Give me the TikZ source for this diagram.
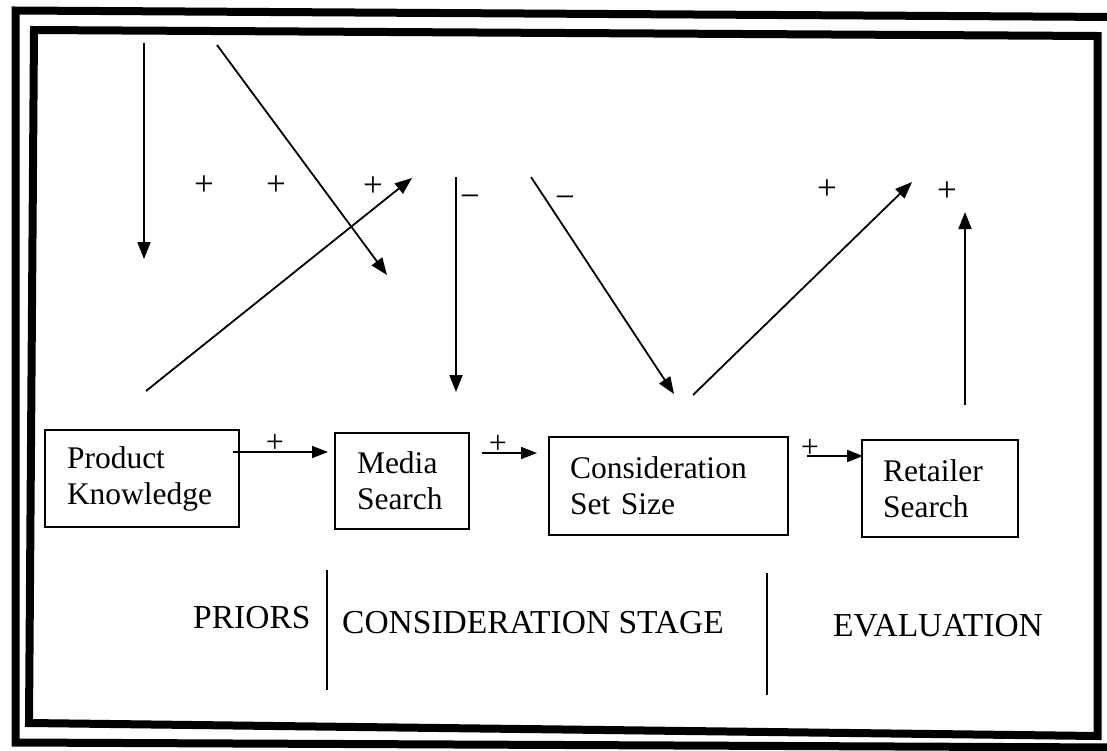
\documentclass[tikz,border=0pt]{standalone}
\usepackage{fontspec}
\setmainfont{Liberation Serif}
\usetikzlibrary{arrows.meta}
\begin{document}
\begin{tikzpicture}[x=1pt,y=-1pt,
  boxnode/.style={draw, line width=1.4pt, align=left, inner ysep=0pt, font=\fontsize{31.5}{36}\selectfont},
  arr/.style={line width=1.8pt, -{Triangle[length=17pt,width=13pt]}},
  harr/.style={line width=1.8pt, -{Triangle[length=16pt,width=12pt]}},
  sign/.style={font=\fontsize{35}{35}\selectfont, inner sep=0pt},
  smallsign/.style={font=\fontsize{32}{32}\selectfont, inner sep=0pt},
  stage/.style={font=\fontsize{33.5}{33.5}\selectfont, anchor=base west, inner sep=0pt},
  frame/.style={line width=8pt, line join=miter},
  divider/.style={line width=1.5pt}]
\useasboundingbox[fill=white] (0,0) rectangle (1107,750);

% frames
\draw[frame] (15.5,10.5) -- (1118,17) -- (1118,747.5) -- (15.5,742.5) -- cycle;
\draw[frame] (34,30) -- (1097.5,36) -- (1097.5,736) -- (29,723) -- cycle;

% boxes
\node[boxnode, text width=150pt, inner xsep=22pt, minimum height=97pt] (pk) at (142,478.5) {Product\\Knowledge};
\node[boxnode, text width=90pt, inner xsep=22pt, minimum height=96pt] (ms) at (402,481) {Media\\Search};
\node[boxnode, text width=197pt, inner xsep=21pt, minimum height=98pt] (css) at (668.5,486) {Consideration\\Set Size};
\node[boxnode, text width=114pt, inner xsep=21pt, minimum height=97pt] (rs) at (940,488.5) {Retailer\\Search};

% connector end points
\coordinate (a1) at (144,43);   \coordinate (a2) at (144,259);
\coordinate (b1) at (217,45);   \coordinate (b2) at (387,275);
\coordinate (c1) at (146,391);  \coordinate (c2) at (412,178);
\coordinate (d1) at (456,177);  \coordinate (d2) at (456,392);
\coordinate (e1) at (531,177);  \coordinate (e2) at (674,394);
\coordinate (f1) at (693,395);  \coordinate (f2) at (912,182);
\coordinate (g1) at (965,405);  \coordinate (g2) at (965,212);
\coordinate (h1) at (233,452);  \coordinate (h2) at (328,452);
\coordinate (i1) at (482,453);  \coordinate (i2) at (537,453);
\coordinate (j1) at (807,456);  \coordinate (j2) at (863,456);

\draw[arr] (a1) -- (a2);
\draw[arr] (b1) -- (b2);
\draw[arr] (c1) -- (c2);
\draw[arr] (d1) -- (d2);
\draw[arr] (e1) -- (e2);
\draw[arr] (f1) -- (f2);
\draw[arr] (g1) -- (g2);
\draw[harr] (h1) -- (h2);
\draw[harr] (i1) -- (i2);
\draw[harr] (j1) -- (j2);

% signs
\node[sign] (p1) at (204,186) {+};
\node[sign] (p2) at (276,186) {+};
\node[sign] (p3) at (373,187) {+};
\node[sign] (p4) at (827,190) {+};
\node[sign] (p5) at (947,192) {+};
\node[sign] (m1) at (470,201) {−};
\node[sign] (m2) at (565,202) {−};
\node[smallsign] (q1) at (275,443) {+};
\node[smallsign] (q2) at (498,444) {+};
\node[smallsign] (q3) at (810,448) {+};

% stage labels and dividers
\node[stage] (priors) at (193,628) {PRIORS};
\node[stage] (cons) at (342,633) {CONSIDERATION STAGE};
\node[stage] (eval) at (833,636) {EVALUATION};
\draw[divider] (327,570) -- (327,690);
\draw[divider] (767,573) -- (767,695);
\end{tikzpicture}
\end{document}
